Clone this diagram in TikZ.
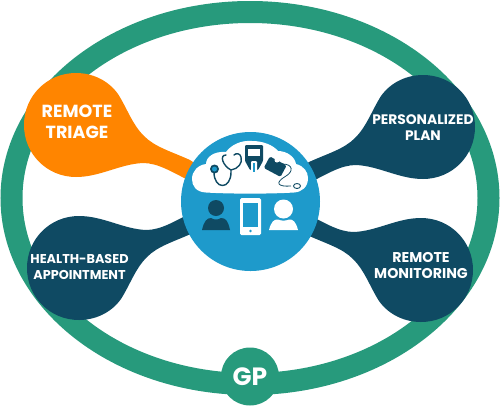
\documentclass[tikz,border=0pt]{standalone}
\usepackage{fontspec}
\setmainfont{Poppins}
\definecolor{ringgreen}{HTML}{279A7C}
\definecolor{navy}{HTML}{0F4A63}
\definecolor{hubblue}{HTML}{1E9ACB}
\definecolor{triage}{HTML}{FF8500}
\tikzset{
  lab/.style={text=white,align=center,font=\bfseries\fontsize{13.8}{16}\selectfont,inner sep=0pt},
}
\newcommand{\blobpath}{%
  (250,201) -- (190,160) .. controls (170,151) and (155,147) .. (144,136)
  .. controls (132,124) and (128,110) .. (118,94)
  .. controls (108,80) and (92,73) .. (76,73)
  .. controls (47,73) and (24,96) .. (24,125)
  .. controls (24,154) and (47,177) .. (76,177)
  .. controls (100,177) and (120,164) .. (143,163)
  .. controls (158,163) and (172,172) .. (190,181) -- cycle}
\begin{document}
\begin{tikzpicture}[x=1pt,y=-1pt]
\useasboundingbox (0,0) rectangle (500,405);
% ring
\draw[ringgreen,line width=22pt] (250,198) ellipse [x radius=238.5, y radius=186];
\fill[ringgreen] (250,376.5) circle (29);
% blobs
\fill[triage] \blobpath;
\begin{scope}[xshift=499pt,yshift=-2pt,xscale=-1]
\fill[navy] \blobpath;
\end{scope}
\begin{scope}[xshift=3pt,yshift=-393pt,yscale=-1]
\fill[navy] \blobpath;
\end{scope}
\begin{scope}[xshift=497pt,yshift=-395pt,xscale=-1,yscale=-1]
\fill[navy] \blobpath;
\end{scope}
% hub
\fill[hubblue] (250.5,201.5) circle (69.5);
% cloud
\fill[white] (206,192.5) .. controls (196,192) and (192,186) .. (192,179)
  .. controls (192,171) and (198,165) .. (206,164)
  .. controls (206,157) and (214,151) .. (226,152)
  .. controls (231,145) and (241,140) .. (252,141)
  .. controls (263,141) and (273,145) .. (278,151)
  .. controls (287,151) and (295,157) .. (296,164)
  .. controls (304,166) and (308,172) .. (308,178)
  .. controls (308,187) and (302,192) .. (294,192.5)
  .. controls (270,194) and (230,194) .. (206,192.5) -- cycle;
% stethoscope
\draw[navy,line width=1.4pt,line cap=round] (214,172) .. controls (214,190) and (231,190) .. (231,172)
  -- (231,170) .. controls (223,166) and (219,155) .. (226,155)
  (231,170) .. controls (238,169) and (243,163) .. (241,157) .. controls (240,153) and (236,153) .. (234,155);
\fill[navy] (214.5,169) circle (4.5);
\fill[hubblue] (214.5,169) circle (2.5);
% glucose meter
\fill[navy,rounded corners=1pt] (245,145) -- (263,145) -- (263,161) -- (258,170) -- (250,170) -- (245,161) -- cycle;
\fill[white] (248,149) rectangle (260,156);
\fill[white,rounded corners=1pt] (251,161) rectangle (257,172);
\fill[hubblue] (252.8,163) rectangle (255.2,172);
% cuff
\fill[navy,rounded corners=1.5pt,rotate around={-28:(275,166)}] (266,160) rectangle (285,173);
\fill[white] (277,160) circle (2.5);
\draw[navy,line width=.8pt] (282,164) .. controls (294,164) and (293,172) .. (286,176)
  .. controls (274,183) and (278,187) .. (291,186);
\draw[navy,line width=.9pt,fill=white] (297,186) ellipse [x radius=3.5, y radius=2.5];
% people
\fill[navy] (216,208) circle (8);
\fill[navy] (202,230) .. controls (204,221) and (207,218) .. (211,218) .. controls (214,220) and (218,220) .. (221,218)
  .. controls (226,218) and (228,221) .. (230,230) -- cycle;
\fill[white] (283.5,209) circle (9.5);
\fill[white] (269,230) .. controls (271,222) and (274,219) .. (278,219.5) .. controls (281,221) and (286,221) .. (289,219.5)
  .. controls (293,219) and (296,222) .. (298,230) -- cycle;
% phone
\fill[white,rounded corners=1.5pt] (240,198) rectangle (261,235);
\fill[hubblue] (243,203) rectangle (258,227);
\fill[hubblue] (250.5,231) circle (1.3);
% labels
\node[lab,font=\bfseries\fontsize{17.5}{21}\selectfont] (triagelab) at (77,122) {REMOTE\\TRIAGE};
\node[lab] (planlab) at (423,128) {PERSONALIZED\\PLAN};
\node[lab,font=\bfseries\fontsize{12.8}{16}\selectfont] (healthlab) at (79.5,266.5) {HEALTH-BASED\\APPOINTMENT};
\node[lab,font=\bfseries\fontsize{14.2}{16}\selectfont] (monitorlab) at (421,265) {REMOTE\\MONITORING};
\node[text=white,font=\bfseries\fontsize{25}{25}\selectfont,inner sep=0pt] (gplab) at (250,377) {GP};
\end{tikzpicture}
\end{document}
